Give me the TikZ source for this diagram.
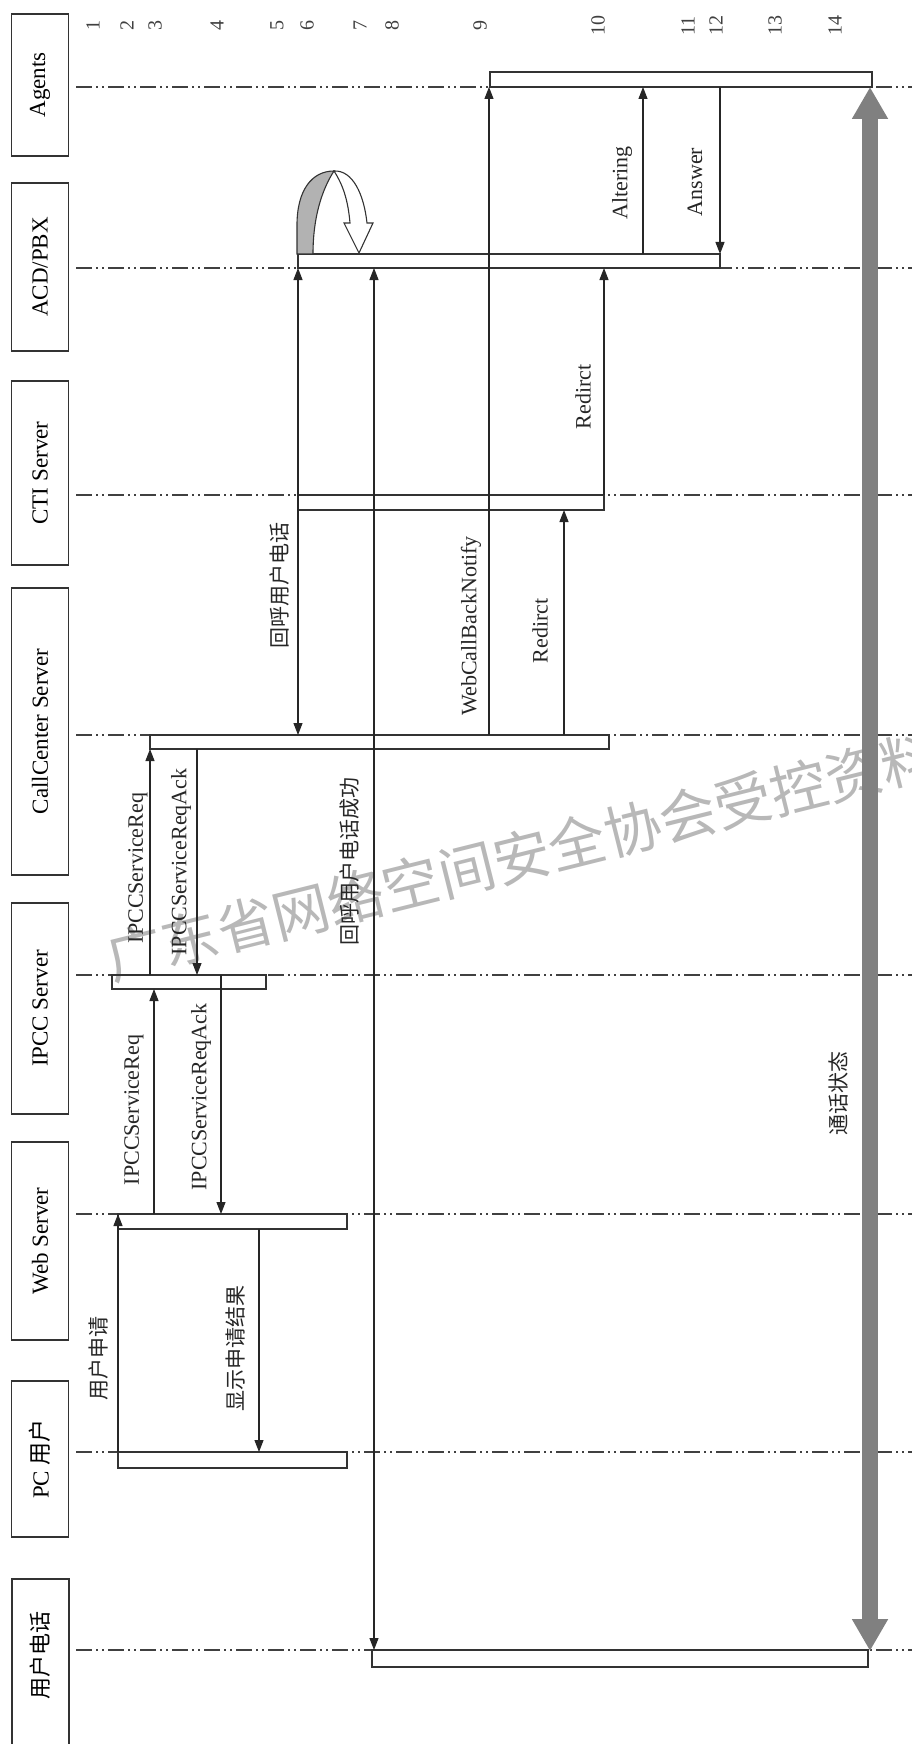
\documentclass[tikz,border=0pt]{standalone}
\usepackage{fontspec}
\setmainfont{Liberation Serif}
\newfontfamily\cjk{Noto Sans CJK SC}
\newcommand{\zh}[1]{{\cjk #1}}
\usetikzlibrary{arrows.meta}
\begin{document}
\begin{tikzpicture}[x=1pt,y=-1pt,
  lifeline/.style={draw=black!75, line width=1.3pt, dash pattern=on 16pt off 4pt on 2pt off 4pt on 2pt off 4pt},
  actbox/.style={draw=black!80, line width=1.4pt},
  part/.style={draw=black!80, line width=1.4pt, rotate=90, minimum height=57pt, inner sep=0pt, font=\fontsize{23}{26}\selectfont},
  tip/.tip={Triangle[length=12pt,width=9pt]},
  msg/.style={draw=black!85, line width=1.1pt, -tip},
  dmsg/.style={draw=black!85, line width=1.1pt, tip-tip},
  lbl/.style={rotate=90, inner sep=0pt, font=\fontsize{22}{24}\selectfont, text=black!85},
  zlbl/.style={rotate=90, inner sep=0pt, font=\cjk\fontsize{21}{24}\selectfont, text=black!85},
  num/.style={rotate=90, inner sep=0pt, font=\fontsize{20}{22}\selectfont, text=black!75},
  bigarrow/.style={draw=black!50, line width=16pt, {Triangle[length=32pt,width=34pt]}-{Triangle[length=32pt,width=34pt]}},
]
\useasboundingbox (0,0) rectangle (912,1744);

% watermark
\node[rotate=14, inner sep=0pt, font=\cjk\fontsize{57}{60}\selectfont, text=black!28] (wm) at (522,856) {广东省网络空间安全协会受控资料};

% participants
\node[part, minimum width=142pt] (pAg) at (40,85) {Agents};
\node[part, minimum width=168pt] (pACD) at (40,267) {ACD/PBX};
\node[part, minimum width=184pt] (pCTI) at (40,473) {CTI Server};
\node[part, minimum width=287pt] (pCC) at (40,731.5) {CallCenter Server};
\node[part, minimum width=211pt] (pIPCC) at (40,1008.5) {IPCC Server};
\node[part, minimum width=198pt] (pWeb) at (40,1241) {Web Server};
\node[part, minimum width=156pt] (pPC) at (40,1459) {PC \zh{用户}};
\node[rotate=90, inner sep=0pt, font=\cjk\fontsize{22}{26}\selectfont] (pPh) at (40,1655) {用户电话};
\draw[black!80, line width=1.4pt] (12,1800) |- (69,1579) -- (69,1800);

% step numbers
\foreach \n/\x in {1/93,2/127,3/155,4/217,5/277,6/307,7/360,8/392,9/480,10/598,11/688,12/716,13/775,14/835}
  \node[num] (n\n) at (\x,26) {\n};

% lifelines
\foreach \nm/\y in {Ag/87,ACD/268,CTI/495,CC/735,IPCC/975,Web/1214,PC/1452,Ph/1650}{
  \coordinate (ls\nm) at (76,\y);
  \coordinate (le\nm) at (912,\y);
  \draw[lifeline] (ls\nm) -- (le\nm);
}

% activation boxes
\draw[actbox] (490,72) rectangle (872,87);
\draw[actbox] (298,254) rectangle (720,268);
\draw[actbox] (298,495) rectangle (604,510);
\draw[actbox] (150,735) rectangle (609,749);
\draw[actbox] (112,975) rectangle (266,989);
\draw[actbox] (118,1214) rectangle (347,1229);
\draw[actbox] (118,1452) rectangle (347,1468);
\draw[actbox] (372,1650) rectangle (868,1667);

% self loop at ACD/PBX
\filldraw[fill=black!30, draw=black!80, line width=1.1pt]
  (297,254) -- (297,225) .. controls (297,190) and (312,171) .. (334,171)
  .. controls (323,188) and (313,215) .. (313,254) -- cycle;
\filldraw[fill=white, draw=black!80, line width=1.1pt]
  (334,171) .. controls (353,170) and (364,195) .. (367,223)
  -- (373,223) -- (359,253) -- (344,223) -- (350,223)
  .. controls (348,200) and (343,185) .. (334,171) -- cycle;

% messages
\coordinate (a1) at (118,1452); \coordinate (b1) at (118,1214);
\draw[msg] (a1) -- (b1);
\node[zlbl] (t1) at (99,1358) {用户申请};

\coordinate (a2) at (259,1229); \coordinate (b2) at (259,1452);
\draw[msg] (a2) -- (b2);
\node[zlbl] (t2) at (236,1348) {显示申请结果};

\coordinate (a3) at (154,1214); \coordinate (b3) at (154,989);
\draw[msg] (a3) -- (b3);
\node[lbl] (t3) at (134,1110) {IPCCServiceReq};

\coordinate (a4) at (221,975); \coordinate (b4) at (221,1214);
\draw[msg] (a4) -- (b4);
\node[lbl] (t4) at (201,1097) {IPCCServiceReqAck};

\coordinate (a5) at (150,975); \coordinate (b5) at (150,749);
\draw[msg] (a5) -- (b5);
\node[lbl] (t5) at (138,868) {IPCCServiceReq};

\coordinate (a6) at (197,749); \coordinate (b6) at (197,975);
\draw[msg] (a6) -- (b6);
\node[lbl] (t6) at (181,862) {IPCCServiceReqAck};

\coordinate (a7) at (298,735); \coordinate (b7) at (298,268);
\draw[dmsg] (a7) -- (b7);
\node[zlbl] (t7) at (280,585) {回呼用户电话};

\coordinate (a8) at (374,268); \coordinate (b8) at (374,1650);
\draw[dmsg] (a8) -- (b8);
\node[zlbl] (t8) at (350,861) {回呼用户电话成功};

\coordinate (a9) at (489,735); \coordinate (b9) at (489,87);
\draw[msg] (a9) -- (b9);
\node[lbl] (t9) at (471,626) {WebCallBackNotify};

\coordinate (a10) at (564,735); \coordinate (b10) at (564,510);
\draw[msg] (a10) -- (b10);
\node[lbl] (t10) at (540,631) {Redirct};

\coordinate (a11) at (604,495); \coordinate (b11) at (604,268);
\draw[msg] (a11) -- (b11);
\node[lbl] (t11) at (583,397) {Redirct};

\coordinate (a12) at (643,254); \coordinate (b12) at (643,87);
\draw[msg] (a12) -- (b12);
\node[lbl] (t12) at (622,183) {Altering};

\coordinate (a13) at (720,87); \coordinate (b13) at (720,254);
\draw[msg] (a13) -- (b13);
\node[lbl] (t13) at (695,182) {Answer};

% talking state
\coordinate (tA) at (870,87); \coordinate (tB) at (870,1651);
\draw[bigarrow] (tA) -- (tB);
\node[zlbl] (t14) at (838,1093) {通话状态};

\end{tikzpicture}
\end{document}
